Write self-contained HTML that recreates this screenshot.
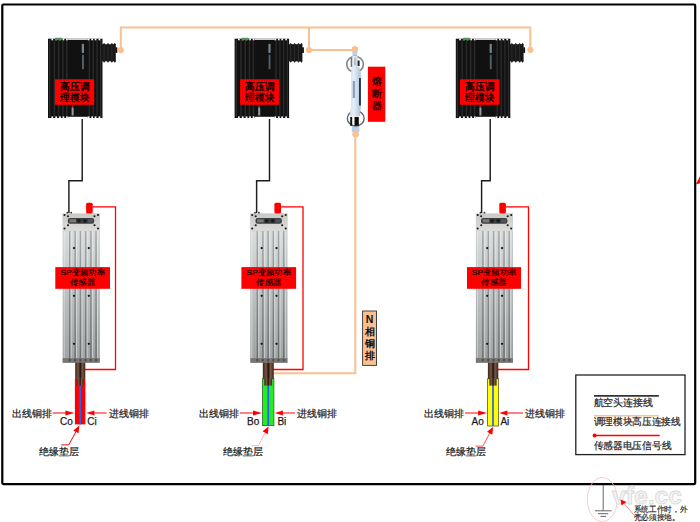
<!DOCTYPE html><html><head><meta charset="utf-8"><style>html,body{margin:0;padding:0;background:#fff;width:700px;height:522px;overflow:hidden}svg{display:block;font-family:"Liberation Sans",sans-serif}</style></head><body>
<svg width="700" height="522" viewBox="0 0 700 522">
<defs>
<linearGradient id="sgrad" x1="0" y1="0" x2="0" y2="1"><stop offset="0" stop-color="#c6c9c9"/><stop offset="0.5" stop-color="#a9adad"/><stop offset="1" stop-color="#878b8b"/></linearGradient>
<linearGradient id="hgrad" x1="0" y1="0" x2="0" y2="1"><stop offset="0" stop-color="#c9c9c6"/><stop offset="1" stop-color="#dcdcd9"/></linearGradient>
<linearGradient id="fdark" x1="0" y1="0" x2="0" y2="1"><stop offset="0" stop-color="#a3a7a7"/><stop offset="0.5" stop-color="#888c8c"/><stop offset="1" stop-color="#6a6d6d"/></linearGradient>
<linearGradient id="flight" x1="0" y1="0" x2="0" y2="1"><stop offset="0" stop-color="#d9dddd"/><stop offset="0.5" stop-color="#bcc0c1"/><stop offset="1" stop-color="#a0a4a5"/></linearGradient>
<linearGradient id="fuseg" x1="0" y1="0" x2="1" y2="0"><stop offset="0" stop-color="#d0dff0"/><stop offset="0.35" stop-color="#e6eef8"/><stop offset="0.7" stop-color="#c9d9ea"/><stop offset="1" stop-color="#a9bed4"/></linearGradient>
<linearGradient id="brown" x1="0" y1="0" x2="1" y2="0"><stop offset="0" stop-color="#3b2418"/><stop offset="0.3" stop-color="#7a5846"/><stop offset="0.5" stop-color="#1e120c"/><stop offset="0.7" stop-color="#7a5846"/><stop offset="1" stop-color="#3b2418"/></linearGradient>
</defs>
<rect x="2.3" y="4.5" width="692.9" height="479.6" rx="1" fill="none" stroke="#000" stroke-width="2.2"/>
<g stroke="#FAC090" stroke-width="2" fill="none"><path d="M120.8 50 V27.4 H530.3 V50"/><path d="M309 27.4 V50 H355"/><path d="M355.3 134 V373.3 H273"/></g>
<g transform="translate(48.0,38.7)">
<rect x="0" y="0" width="54.5" height="79.3" fill="#111"/>
<path d="M54.0 5.6 L54.9 5.6 L56.1 4.2 L57.3 5.6 L58.8 5.6 L60.0 4.2 L61.2 5.6 L62.7 5.6 L63.9 4.2 L65.1 5.6 L65.6 5.6 L66.8 4.2 L68.0 5.6 L67.8 7 L67.8 21.8 L68.0 22.6 L66.8 24.1 L65.6 22.6 L65.1 22.6 L63.9 24.1 L62.7 22.6 L61.2 22.6 L60.0 24.1 L58.8 22.6 L57.3 22.6 L56.1 24.1 L54.9 22.6 L54.0 22.6 Z" fill="#171717"/>
<rect x="55.6" y="5.5" width="1" height="17" fill="#2e2e2e"/>
<rect x="59.5" y="5.5" width="1" height="17" fill="#2e2e2e"/>
<rect x="63.4" y="5.5" width="1" height="17" fill="#2e2e2e"/>
<rect x="67.5" y="8.6" width="1.8" height="5.6" fill="#0d0d0d"/>
<rect x="0.9" y="1" width="1.5" height="77.3" fill="#2a2a2a"/>
<rect x="5.6" y="1" width="1.5" height="77.3" fill="#2a2a2a"/>
<rect x="9.9" y="1" width="1.5" height="77.3" fill="#2a2a2a"/>
<rect x="14.1" y="1" width="1.5" height="77.3" fill="#2a2a2a"/>
<rect x="18.0" y="1" width="1.5" height="77.3" fill="#2a2a2a"/>
<rect x="40.7" y="1" width="1.4" height="77.3" fill="#2a2a2a"/>
<rect x="44.6" y="1" width="1.4" height="77.3" fill="#2a2a2a"/>
<rect x="48.4" y="1" width="1.4" height="77.3" fill="#2a2a2a"/>
<rect x="52.0" y="1" width="1.4" height="77.3" fill="#2a2a2a"/>
<rect x="3.4" y="0" width="1.7" height="1.6" fill="#fff"/>
<rect x="3.4" y="77.7" width="1.7" height="1.6" fill="#fff"/>
<rect x="7.3" y="0" width="1.7" height="1.6" fill="#fff"/>
<rect x="7.3" y="77.7" width="1.7" height="1.6" fill="#fff"/>
<rect x="11.1" y="0" width="1.7" height="1.6" fill="#fff"/>
<rect x="11.1" y="77.7" width="1.7" height="1.6" fill="#fff"/>
<rect x="14.6" y="0" width="1.7" height="1.6" fill="#fff"/>
<rect x="14.6" y="77.7" width="1.7" height="1.6" fill="#fff"/>
<rect x="18.1" y="0" width="1.7" height="1.6" fill="#fff"/>
<rect x="18.1" y="77.7" width="1.7" height="1.6" fill="#fff"/>
<rect x="39.8" y="0" width="1.7" height="1.6" fill="#fff"/>
<rect x="39.8" y="77.7" width="1.7" height="1.6" fill="#fff"/>
<rect x="43.3" y="0" width="1.7" height="1.6" fill="#fff"/>
<rect x="43.3" y="77.7" width="1.7" height="1.6" fill="#fff"/>
<rect x="46.7" y="0" width="1.7" height="1.6" fill="#fff"/>
<rect x="46.7" y="77.7" width="1.7" height="1.6" fill="#fff"/>
<rect x="50.6" y="0" width="1.7" height="1.6" fill="#fff"/>
<rect x="50.6" y="77.7" width="1.7" height="1.6" fill="#fff"/>
<rect x="20.1" y="0" width="19.7" height="1.1" fill="#fff"/>
<rect x="20.1" y="78.1" width="19.7" height="1.2" fill="#fff"/>
<rect x="6.8" y="-1.0" width="7.5" height="2.2" rx="1" fill="#4c9a4f"/>
<rect x="33.8" y="5.2" width="2.2" height="9" fill="#7d939c" opacity="0.9"/>
<rect x="34.0" y="16" width="1.9" height="14.5" fill="#5d7079" opacity="0.85"/>
<rect x="6.9" y="40.6" width="39.3" height="25.5" fill="#FF0000"/>
<text x="26.700000000000003" y="51.11" font-size="9.6" fill="#000" stroke="#000" stroke-width="0.35" text-anchor="middle" textLength="29" lengthAdjust="spacingAndGlyphs">高压调</text>
<text x="26.700000000000003" y="61.91" font-size="9.6" fill="#000" stroke="#000" stroke-width="0.35" text-anchor="middle" textLength="29" lengthAdjust="spacingAndGlyphs">理模块</text>
<rect x="23.8" y="67" width="1.2" height="1.5" fill="#c33"/>
<rect x="23.6" y="68.8" width="2" height="8" fill="#8e9ea6"/>
</g>
<g transform="translate(234.6,38.7)">
<rect x="0" y="0" width="54.5" height="79.3" fill="#111"/>
<path d="M54.0 5.6 L54.9 5.6 L56.1 4.2 L57.3 5.6 L58.8 5.6 L60.0 4.2 L61.2 5.6 L62.7 5.6 L63.9 4.2 L65.1 5.6 L65.6 5.6 L66.8 4.2 L68.0 5.6 L67.8 7 L67.8 21.8 L68.0 22.6 L66.8 24.1 L65.6 22.6 L65.1 22.6 L63.9 24.1 L62.7 22.6 L61.2 22.6 L60.0 24.1 L58.8 22.6 L57.3 22.6 L56.1 24.1 L54.9 22.6 L54.0 22.6 Z" fill="#171717"/>
<rect x="55.6" y="5.5" width="1" height="17" fill="#2e2e2e"/>
<rect x="59.5" y="5.5" width="1" height="17" fill="#2e2e2e"/>
<rect x="63.4" y="5.5" width="1" height="17" fill="#2e2e2e"/>
<rect x="67.5" y="8.6" width="1.8" height="5.6" fill="#0d0d0d"/>
<rect x="0.9" y="1" width="1.5" height="77.3" fill="#2a2a2a"/>
<rect x="5.6" y="1" width="1.5" height="77.3" fill="#2a2a2a"/>
<rect x="9.9" y="1" width="1.5" height="77.3" fill="#2a2a2a"/>
<rect x="14.1" y="1" width="1.5" height="77.3" fill="#2a2a2a"/>
<rect x="18.0" y="1" width="1.5" height="77.3" fill="#2a2a2a"/>
<rect x="40.7" y="1" width="1.4" height="77.3" fill="#2a2a2a"/>
<rect x="44.6" y="1" width="1.4" height="77.3" fill="#2a2a2a"/>
<rect x="48.4" y="1" width="1.4" height="77.3" fill="#2a2a2a"/>
<rect x="52.0" y="1" width="1.4" height="77.3" fill="#2a2a2a"/>
<rect x="3.4" y="0" width="1.7" height="1.6" fill="#fff"/>
<rect x="3.4" y="77.7" width="1.7" height="1.6" fill="#fff"/>
<rect x="7.3" y="0" width="1.7" height="1.6" fill="#fff"/>
<rect x="7.3" y="77.7" width="1.7" height="1.6" fill="#fff"/>
<rect x="11.1" y="0" width="1.7" height="1.6" fill="#fff"/>
<rect x="11.1" y="77.7" width="1.7" height="1.6" fill="#fff"/>
<rect x="14.6" y="0" width="1.7" height="1.6" fill="#fff"/>
<rect x="14.6" y="77.7" width="1.7" height="1.6" fill="#fff"/>
<rect x="18.1" y="0" width="1.7" height="1.6" fill="#fff"/>
<rect x="18.1" y="77.7" width="1.7" height="1.6" fill="#fff"/>
<rect x="39.8" y="0" width="1.7" height="1.6" fill="#fff"/>
<rect x="39.8" y="77.7" width="1.7" height="1.6" fill="#fff"/>
<rect x="43.3" y="0" width="1.7" height="1.6" fill="#fff"/>
<rect x="43.3" y="77.7" width="1.7" height="1.6" fill="#fff"/>
<rect x="46.7" y="0" width="1.7" height="1.6" fill="#fff"/>
<rect x="46.7" y="77.7" width="1.7" height="1.6" fill="#fff"/>
<rect x="50.6" y="0" width="1.7" height="1.6" fill="#fff"/>
<rect x="50.6" y="77.7" width="1.7" height="1.6" fill="#fff"/>
<rect x="20.1" y="0" width="19.7" height="1.1" fill="#fff"/>
<rect x="20.1" y="78.1" width="19.7" height="1.2" fill="#fff"/>
<rect x="6.8" y="-1.0" width="7.5" height="2.2" rx="1" fill="#4c9a4f"/>
<rect x="33.8" y="5.2" width="2.2" height="9" fill="#7d939c" opacity="0.9"/>
<rect x="34.0" y="16" width="1.9" height="14.5" fill="#5d7079" opacity="0.85"/>
<rect x="5.5" y="40.6" width="39.3" height="25.5" fill="#FF0000"/>
<text x="25.3" y="51.11" font-size="9.6" fill="#000" stroke="#000" stroke-width="0.35" text-anchor="middle" textLength="29" lengthAdjust="spacingAndGlyphs">高压调</text>
<text x="25.3" y="61.91" font-size="9.6" fill="#000" stroke="#000" stroke-width="0.35" text-anchor="middle" textLength="29" lengthAdjust="spacingAndGlyphs">理模块</text>
<rect x="23.8" y="67" width="1.2" height="1.5" fill="#c33"/>
<rect x="23.6" y="68.8" width="2" height="8" fill="#8e9ea6"/>
</g>
<g transform="translate(455.8,38.7)">
<rect x="0" y="0" width="54.5" height="79.3" fill="#111"/>
<path d="M54.0 5.6 L54.9 5.6 L56.1 4.2 L57.3 5.6 L58.8 5.6 L60.0 4.2 L61.2 5.6 L62.7 5.6 L63.9 4.2 L65.1 5.6 L65.6 5.6 L66.8 4.2 L68.0 5.6 L67.8 7 L67.8 21.8 L68.0 22.6 L66.8 24.1 L65.6 22.6 L65.1 22.6 L63.9 24.1 L62.7 22.6 L61.2 22.6 L60.0 24.1 L58.8 22.6 L57.3 22.6 L56.1 24.1 L54.9 22.6 L54.0 22.6 Z" fill="#171717"/>
<rect x="55.6" y="5.5" width="1" height="17" fill="#2e2e2e"/>
<rect x="59.5" y="5.5" width="1" height="17" fill="#2e2e2e"/>
<rect x="63.4" y="5.5" width="1" height="17" fill="#2e2e2e"/>
<rect x="67.5" y="8.6" width="1.8" height="5.6" fill="#0d0d0d"/>
<rect x="0.9" y="1" width="1.5" height="77.3" fill="#2a2a2a"/>
<rect x="5.6" y="1" width="1.5" height="77.3" fill="#2a2a2a"/>
<rect x="9.9" y="1" width="1.5" height="77.3" fill="#2a2a2a"/>
<rect x="14.1" y="1" width="1.5" height="77.3" fill="#2a2a2a"/>
<rect x="18.0" y="1" width="1.5" height="77.3" fill="#2a2a2a"/>
<rect x="40.7" y="1" width="1.4" height="77.3" fill="#2a2a2a"/>
<rect x="44.6" y="1" width="1.4" height="77.3" fill="#2a2a2a"/>
<rect x="48.4" y="1" width="1.4" height="77.3" fill="#2a2a2a"/>
<rect x="52.0" y="1" width="1.4" height="77.3" fill="#2a2a2a"/>
<rect x="3.4" y="0" width="1.7" height="1.6" fill="#fff"/>
<rect x="3.4" y="77.7" width="1.7" height="1.6" fill="#fff"/>
<rect x="7.3" y="0" width="1.7" height="1.6" fill="#fff"/>
<rect x="7.3" y="77.7" width="1.7" height="1.6" fill="#fff"/>
<rect x="11.1" y="0" width="1.7" height="1.6" fill="#fff"/>
<rect x="11.1" y="77.7" width="1.7" height="1.6" fill="#fff"/>
<rect x="14.6" y="0" width="1.7" height="1.6" fill="#fff"/>
<rect x="14.6" y="77.7" width="1.7" height="1.6" fill="#fff"/>
<rect x="18.1" y="0" width="1.7" height="1.6" fill="#fff"/>
<rect x="18.1" y="77.7" width="1.7" height="1.6" fill="#fff"/>
<rect x="39.8" y="0" width="1.7" height="1.6" fill="#fff"/>
<rect x="39.8" y="77.7" width="1.7" height="1.6" fill="#fff"/>
<rect x="43.3" y="0" width="1.7" height="1.6" fill="#fff"/>
<rect x="43.3" y="77.7" width="1.7" height="1.6" fill="#fff"/>
<rect x="46.7" y="0" width="1.7" height="1.6" fill="#fff"/>
<rect x="46.7" y="77.7" width="1.7" height="1.6" fill="#fff"/>
<rect x="50.6" y="0" width="1.7" height="1.6" fill="#fff"/>
<rect x="50.6" y="77.7" width="1.7" height="1.6" fill="#fff"/>
<rect x="20.1" y="0" width="19.7" height="1.1" fill="#fff"/>
<rect x="20.1" y="78.1" width="19.7" height="1.2" fill="#fff"/>
<rect x="6.8" y="-1.0" width="7.5" height="2.2" rx="1" fill="#4c9a4f"/>
<rect x="33.8" y="5.2" width="2.2" height="9" fill="#7d939c" opacity="0.9"/>
<rect x="34.0" y="16" width="1.9" height="14.5" fill="#5d7079" opacity="0.85"/>
<rect x="4.2" y="40.6" width="39.3" height="25.5" fill="#FF0000"/>
<text x="24.0" y="51.11" font-size="9.6" fill="#000" stroke="#000" stroke-width="0.35" text-anchor="middle" textLength="29" lengthAdjust="spacingAndGlyphs">高压调</text>
<text x="24.0" y="61.91" font-size="9.6" fill="#000" stroke="#000" stroke-width="0.35" text-anchor="middle" textLength="29" lengthAdjust="spacingAndGlyphs">理模块</text>
<rect x="23.8" y="67" width="1.2" height="1.5" fill="#c33"/>
<rect x="23.6" y="68.8" width="2" height="8" fill="#8e9ea6"/>
</g>
<circle cx="120.8" cy="50.1" r="3.1" fill="#FAC090"/>
<circle cx="309" cy="50" r="3.1" fill="#FAC090"/>
<circle cx="530.3" cy="49.8" r="3.1" fill="#FAC090"/>
<circle cx="354.9" cy="49.3" r="3.1" fill="#FAC090"/>
<circle cx="355.6" cy="134.3" r="3.1" fill="#FAC090"/>
<path d="M82.2 119 V180.7 H68.9 V213" stroke="#1c1c1c" stroke-width="1.45" fill="none"/>
<path d="M269.5 119 V180.7 H256.6 V213" stroke="#1c1c1c" stroke-width="1.45" fill="none"/>
<path d="M490.2 119 V180.7 H481.6 V213" stroke="#1c1c1c" stroke-width="1.45" fill="none"/>
<g transform="translate(62.7,213.6)">
<rect x="0" y="0" width="37" height="149.1" fill="url(#sgrad)"/>
<rect x="0.6" y="17.5" width="5.7" height="127.1" fill="url(#flight)"/>
<rect x="1.0" y="17.5" width="0.9" height="127.1" fill="#f4f4f2" opacity="0.55"/>
<rect x="7.6" y="17.5" width="4.2" height="127.1" fill="url(#flight)"/>
<rect x="8.0" y="17.5" width="0.9" height="127.1" fill="#f4f4f2" opacity="0.55"/>
<rect x="13.1" y="17.5" width="4.0" height="127.1" fill="url(#flight)"/>
<rect x="13.5" y="17.5" width="0.9" height="127.1" fill="#f4f4f2" opacity="0.55"/>
<rect x="18.4" y="17.5" width="3.9" height="127.1" fill="url(#flight)"/>
<rect x="18.8" y="17.5" width="0.9" height="127.1" fill="#f4f4f2" opacity="0.55"/>
<rect x="23.6" y="17.5" width="3.9" height="127.1" fill="url(#flight)"/>
<rect x="24.0" y="17.5" width="0.9" height="127.1" fill="#f4f4f2" opacity="0.55"/>
<rect x="28.8" y="17.5" width="3.9" height="127.1" fill="url(#flight)"/>
<rect x="29.2" y="17.5" width="0.9" height="127.1" fill="#f4f4f2" opacity="0.55"/>
<rect x="34.0" y="17.5" width="2.4" height="127.1" fill="url(#flight)"/>
<rect x="34.4" y="17.5" width="0.9" height="127.1" fill="#f4f4f2" opacity="0.55"/>
<rect x="6.3" y="17.5" width="1.3" height="127.1" fill="url(#fdark)"/>
<rect x="11.8" y="17.5" width="1.3" height="127.1" fill="url(#fdark)"/>
<rect x="17.1" y="17.5" width="1.3" height="127.1" fill="url(#fdark)"/>
<rect x="22.3" y="17.5" width="1.3" height="127.1" fill="url(#fdark)"/>
<rect x="27.5" y="17.5" width="1.3" height="127.1" fill="url(#fdark)"/>
<rect x="32.7" y="17.5" width="1.3" height="127.1" fill="url(#fdark)"/>
<rect x="0" y="0" width="37" height="17.3" fill="url(#hgrad)"/>
<rect x="5.1" y="4.3" width="26.4" height="5.8" rx="2.2" fill="#3b3e42"/>
<rect x="6.8" y="5.6" width="6.5" height="3.2" fill="#7b7a70"/>
<circle cx="16.3" cy="7.2" r="1.9" fill="#1d1d1d"/><circle cx="22.3" cy="7.2" r="1.9" fill="#1d1d1d"/>
<rect x="25.2" y="5.4" width="5" height="3.6" fill="#4d5258"/>
<circle cx="1.8" cy="1.4" r="1.05" fill="#1a1a1a"/>
<circle cx="35.3" cy="1.4" r="1.05" fill="#1a1a1a"/>
<circle cx="1.8" cy="14.9" r="1.05" fill="#1a1a1a"/>
<circle cx="35.3" cy="14.9" r="1.05" fill="#1a1a1a"/>
<circle cx="5.3" cy="2.7" r="1.05" fill="#1a1a1a"/>
<circle cx="31.8" cy="2.7" r="1.05" fill="#1a1a1a"/>
<circle cx="5.3" cy="11.7" r="1.05" fill="#1a1a1a"/>
<circle cx="31.8" cy="11.7" r="1.05" fill="#1a1a1a"/>
<circle cx="4.6" cy="-0.9" r="0.9" fill="#333"/><circle cx="8.5" cy="-0.9" r="0.9" fill="#333"/>
<circle cx="11.3" cy="34.5" r="1.15" fill="#151515"/>
<circle cx="26.1" cy="34.5" r="1.15" fill="#151515"/>
<circle cx="11.3" cy="82.2" r="1.15" fill="#151515"/>
<circle cx="26.1" cy="82.2" r="1.15" fill="#151515"/>
<circle cx="11.3" cy="130.2" r="1.15" fill="#151515"/>
<circle cx="26.1" cy="130.2" r="1.15" fill="#151515"/>
<rect x="0" y="144.6" width="37" height="4.5" fill="#777674"/>
<rect x="6.0" y="145.29999999999998" width="1.8" height="2.4" fill="#4a4a48"/>
<rect x="11.5" y="145.29999999999998" width="1.8" height="2.4" fill="#4a4a48"/>
<rect x="16.8" y="145.29999999999998" width="1.8" height="2.4" fill="#4a4a48"/>
<rect x="22.0" y="145.29999999999998" width="1.8" height="2.4" fill="#4a4a48"/>
<rect x="27.2" y="145.29999999999998" width="1.8" height="2.4" fill="#4a4a48"/>
<rect x="32.400000000000006" y="145.29999999999998" width="1.8" height="2.4" fill="#4a4a48"/>
</g>
<rect x="86.1" y="202.8" width="6.6" height="10.6" rx="1.5" fill="#FF0000"/>
<path d="M92.5 206.8 H115.5 V369.5 H83.9" stroke="#FF0000" stroke-width="1.3" fill="none"/>
<rect x="55.3" y="267.1" width="54.7" height="21.7" fill="#FF0000"/>
<text x="82.65" y="275.39" font-size="8.1" fill="#000" stroke="#000" stroke-width="0.15" text-anchor="middle" textLength="44.3" lengthAdjust="spacingAndGlyphs">SP变频功率</text>
<text x="82.65" y="285.29" font-size="8.1" fill="#000" stroke="#000" stroke-width="0.15" text-anchor="middle" textLength="25.4" lengthAdjust="spacingAndGlyphs">传感器</text>
<rect x="74.9" y="378.7" width="10.5" height="45.7" fill="#FF0000"/>
<rect x="79.30000000000001" y="384" width="1.7" height="40.4" fill="#2f5fe8"/>
<rect x="75.2" y="362.6" width="10.1" height="16.3" fill="url(#brown)"/>
<rect x="76.7" y="378.8" width="6.9" height="6.8" fill="url(#brown)"/>
<path d="M52.6 413 H66.9" stroke="#FF0000" stroke-width="1"/>
<path d="M65.4 410.4 L74.30000000000001 413 L65.4 415.6 Z" fill="#FF0000"/>
<path d="M92.4 413 H106.6" stroke="#FF0000" stroke-width="1"/>
<path d="M94.4 410.4 L86.2 413 L94.4 415.6 Z" fill="#FF0000"/>
<path d="M61.4 444.9 H68.7 L76.39 431.02" stroke="#FF0000" stroke-width="1" fill="none"/>
<path d="M79.4 425.6 L78.53 433.35 L73.29 430.44 Z" fill="#FF0000"/>
<text x="11.9" y="417.18" font-size="9.5" fill="#1a1a1a" stroke="#1a1a1a" stroke-width="0.2">出线铜排</text>
<text x="108.8" y="417.18" font-size="9.5" fill="#1a1a1a" stroke="#1a1a1a" stroke-width="0.2">进线铜排</text>
<text x="39.0" y="454.68" font-size="9.5" fill="#1a1a1a" stroke="#1a1a1a" stroke-width="0.2">绝缘垫层</text>
<text x="60.0" y="424.6" font-size="10" fill="#1a1a1a" stroke="#1a1a1a" stroke-width="0.25">Co</text>
<text x="87.30000000000001" y="424.6" font-size="10" fill="#1a1a1a" stroke="#1a1a1a" stroke-width="0.25">Ci</text>
<g transform="translate(250.4,213.6)">
<rect x="0" y="0" width="37" height="149.1" fill="url(#sgrad)"/>
<rect x="0.6" y="17.5" width="5.7" height="127.1" fill="url(#flight)"/>
<rect x="1.0" y="17.5" width="0.9" height="127.1" fill="#f4f4f2" opacity="0.55"/>
<rect x="7.6" y="17.5" width="4.2" height="127.1" fill="url(#flight)"/>
<rect x="8.0" y="17.5" width="0.9" height="127.1" fill="#f4f4f2" opacity="0.55"/>
<rect x="13.1" y="17.5" width="4.0" height="127.1" fill="url(#flight)"/>
<rect x="13.5" y="17.5" width="0.9" height="127.1" fill="#f4f4f2" opacity="0.55"/>
<rect x="18.4" y="17.5" width="3.9" height="127.1" fill="url(#flight)"/>
<rect x="18.8" y="17.5" width="0.9" height="127.1" fill="#f4f4f2" opacity="0.55"/>
<rect x="23.6" y="17.5" width="3.9" height="127.1" fill="url(#flight)"/>
<rect x="24.0" y="17.5" width="0.9" height="127.1" fill="#f4f4f2" opacity="0.55"/>
<rect x="28.8" y="17.5" width="3.9" height="127.1" fill="url(#flight)"/>
<rect x="29.2" y="17.5" width="0.9" height="127.1" fill="#f4f4f2" opacity="0.55"/>
<rect x="34.0" y="17.5" width="2.4" height="127.1" fill="url(#flight)"/>
<rect x="34.4" y="17.5" width="0.9" height="127.1" fill="#f4f4f2" opacity="0.55"/>
<rect x="6.3" y="17.5" width="1.3" height="127.1" fill="url(#fdark)"/>
<rect x="11.8" y="17.5" width="1.3" height="127.1" fill="url(#fdark)"/>
<rect x="17.1" y="17.5" width="1.3" height="127.1" fill="url(#fdark)"/>
<rect x="22.3" y="17.5" width="1.3" height="127.1" fill="url(#fdark)"/>
<rect x="27.5" y="17.5" width="1.3" height="127.1" fill="url(#fdark)"/>
<rect x="32.7" y="17.5" width="1.3" height="127.1" fill="url(#fdark)"/>
<rect x="0" y="0" width="37" height="17.3" fill="url(#hgrad)"/>
<rect x="5.1" y="4.3" width="26.4" height="5.8" rx="2.2" fill="#3b3e42"/>
<rect x="6.8" y="5.6" width="6.5" height="3.2" fill="#7b7a70"/>
<circle cx="16.3" cy="7.2" r="1.9" fill="#1d1d1d"/><circle cx="22.3" cy="7.2" r="1.9" fill="#1d1d1d"/>
<rect x="25.2" y="5.4" width="5" height="3.6" fill="#4d5258"/>
<circle cx="1.8" cy="1.4" r="1.05" fill="#1a1a1a"/>
<circle cx="35.3" cy="1.4" r="1.05" fill="#1a1a1a"/>
<circle cx="1.8" cy="14.9" r="1.05" fill="#1a1a1a"/>
<circle cx="35.3" cy="14.9" r="1.05" fill="#1a1a1a"/>
<circle cx="5.3" cy="2.7" r="1.05" fill="#1a1a1a"/>
<circle cx="31.8" cy="2.7" r="1.05" fill="#1a1a1a"/>
<circle cx="5.3" cy="11.7" r="1.05" fill="#1a1a1a"/>
<circle cx="31.8" cy="11.7" r="1.05" fill="#1a1a1a"/>
<circle cx="4.6" cy="-0.9" r="0.9" fill="#333"/><circle cx="8.5" cy="-0.9" r="0.9" fill="#333"/>
<circle cx="11.3" cy="34.5" r="1.15" fill="#151515"/>
<circle cx="26.1" cy="34.5" r="1.15" fill="#151515"/>
<circle cx="11.3" cy="82.2" r="1.15" fill="#151515"/>
<circle cx="26.1" cy="82.2" r="1.15" fill="#151515"/>
<circle cx="11.3" cy="130.2" r="1.15" fill="#151515"/>
<circle cx="26.1" cy="130.2" r="1.15" fill="#151515"/>
<rect x="0" y="144.6" width="37" height="4.5" fill="#777674"/>
<rect x="6.0" y="145.29999999999998" width="1.8" height="2.4" fill="#4a4a48"/>
<rect x="11.5" y="145.29999999999998" width="1.8" height="2.4" fill="#4a4a48"/>
<rect x="16.8" y="145.29999999999998" width="1.8" height="2.4" fill="#4a4a48"/>
<rect x="22.0" y="145.29999999999998" width="1.8" height="2.4" fill="#4a4a48"/>
<rect x="27.2" y="145.29999999999998" width="1.8" height="2.4" fill="#4a4a48"/>
<rect x="32.400000000000006" y="145.29999999999998" width="1.8" height="2.4" fill="#4a4a48"/>
</g>
<rect x="274.4" y="202.8" width="6.6" height="10.6" rx="1.5" fill="#FF0000"/>
<path d="M280.79999999999995 206.8 H303.0 V369.5 H271.5" stroke="#FF0000" stroke-width="1.3" fill="none"/>
<rect x="241.4" y="267.1" width="54.7" height="21.7" fill="#FF0000"/>
<text x="268.75" y="275.39" font-size="8.1" fill="#000" stroke="#000" stroke-width="0.15" text-anchor="middle" textLength="44.3" lengthAdjust="spacingAndGlyphs">SP变频功率</text>
<text x="268.75" y="285.29" font-size="8.1" fill="#000" stroke="#000" stroke-width="0.15" text-anchor="middle" textLength="25.4" lengthAdjust="spacingAndGlyphs">传感器</text>
<rect x="262.5" y="378.7" width="11.4" height="46.9" fill="#22EE22" stroke="#2a6a2a" stroke-width="0.8"/>
<rect x="267.34999999999997" y="384" width="1.7" height="41.6" fill="#2f5fe8"/>
<rect x="262.8" y="362.6" width="11.0" height="16.3" fill="url(#brown)"/>
<rect x="264.3" y="378.8" width="7.800000000000001" height="6.8" fill="url(#brown)"/>
<path d="M239.8 413 H254.5" stroke="#FF0000" stroke-width="1"/>
<path d="M253.0 410.4 L261.9 413 L253.0 415.6 Z" fill="#FF0000"/>
<path d="M280.9 413 H295.0" stroke="#FF0000" stroke-width="1"/>
<path d="M282.9 410.4 L274.7 413 L282.9 415.6 Z" fill="#FF0000"/>
<path d="M251.4 445.7 H258.3 L265.68 431.87" stroke="#ffb0b0" stroke-width="1" fill="none"/>
<path d="M268.6 426.4 L267.86 434.16 L262.56 431.34 Z" fill="#FF0000"/>
<text x="199.10000000000002" y="417.18" font-size="9.5" fill="#1a1a1a" stroke="#1a1a1a" stroke-width="0.2">出线铜排</text>
<text x="297.2" y="417.18" font-size="9.5" fill="#1a1a1a" stroke="#1a1a1a" stroke-width="0.2">进线铜排</text>
<text x="222.5" y="454.68" font-size="9.5" fill="#1a1a1a" stroke="#1a1a1a" stroke-width="0.2">绝缘垫层</text>
<text x="247.0" y="424.6" font-size="10" fill="#1a1a1a" stroke="#1a1a1a" stroke-width="0.25">Bo</text>
<text x="277.4" y="424.6" font-size="10" fill="#1a1a1a" stroke="#1a1a1a" stroke-width="0.25">Bi</text>
<g transform="translate(475.9,213.6)">
<rect x="0" y="0" width="37" height="149.1" fill="url(#sgrad)"/>
<rect x="0.6" y="17.5" width="5.7" height="127.1" fill="url(#flight)"/>
<rect x="1.0" y="17.5" width="0.9" height="127.1" fill="#f4f4f2" opacity="0.55"/>
<rect x="7.6" y="17.5" width="4.2" height="127.1" fill="url(#flight)"/>
<rect x="8.0" y="17.5" width="0.9" height="127.1" fill="#f4f4f2" opacity="0.55"/>
<rect x="13.1" y="17.5" width="4.0" height="127.1" fill="url(#flight)"/>
<rect x="13.5" y="17.5" width="0.9" height="127.1" fill="#f4f4f2" opacity="0.55"/>
<rect x="18.4" y="17.5" width="3.9" height="127.1" fill="url(#flight)"/>
<rect x="18.8" y="17.5" width="0.9" height="127.1" fill="#f4f4f2" opacity="0.55"/>
<rect x="23.6" y="17.5" width="3.9" height="127.1" fill="url(#flight)"/>
<rect x="24.0" y="17.5" width="0.9" height="127.1" fill="#f4f4f2" opacity="0.55"/>
<rect x="28.8" y="17.5" width="3.9" height="127.1" fill="url(#flight)"/>
<rect x="29.2" y="17.5" width="0.9" height="127.1" fill="#f4f4f2" opacity="0.55"/>
<rect x="34.0" y="17.5" width="2.4" height="127.1" fill="url(#flight)"/>
<rect x="34.4" y="17.5" width="0.9" height="127.1" fill="#f4f4f2" opacity="0.55"/>
<rect x="6.3" y="17.5" width="1.3" height="127.1" fill="url(#fdark)"/>
<rect x="11.8" y="17.5" width="1.3" height="127.1" fill="url(#fdark)"/>
<rect x="17.1" y="17.5" width="1.3" height="127.1" fill="url(#fdark)"/>
<rect x="22.3" y="17.5" width="1.3" height="127.1" fill="url(#fdark)"/>
<rect x="27.5" y="17.5" width="1.3" height="127.1" fill="url(#fdark)"/>
<rect x="32.7" y="17.5" width="1.3" height="127.1" fill="url(#fdark)"/>
<rect x="0" y="0" width="37" height="17.3" fill="url(#hgrad)"/>
<rect x="5.1" y="4.3" width="26.4" height="5.8" rx="2.2" fill="#3b3e42"/>
<rect x="6.8" y="5.6" width="6.5" height="3.2" fill="#7b7a70"/>
<circle cx="16.3" cy="7.2" r="1.9" fill="#1d1d1d"/><circle cx="22.3" cy="7.2" r="1.9" fill="#1d1d1d"/>
<rect x="25.2" y="5.4" width="5" height="3.6" fill="#4d5258"/>
<circle cx="1.8" cy="1.4" r="1.05" fill="#1a1a1a"/>
<circle cx="35.3" cy="1.4" r="1.05" fill="#1a1a1a"/>
<circle cx="1.8" cy="14.9" r="1.05" fill="#1a1a1a"/>
<circle cx="35.3" cy="14.9" r="1.05" fill="#1a1a1a"/>
<circle cx="5.3" cy="2.7" r="1.05" fill="#1a1a1a"/>
<circle cx="31.8" cy="2.7" r="1.05" fill="#1a1a1a"/>
<circle cx="5.3" cy="11.7" r="1.05" fill="#1a1a1a"/>
<circle cx="31.8" cy="11.7" r="1.05" fill="#1a1a1a"/>
<circle cx="4.6" cy="-0.9" r="0.9" fill="#333"/><circle cx="8.5" cy="-0.9" r="0.9" fill="#333"/>
<circle cx="11.3" cy="34.5" r="1.15" fill="#151515"/>
<circle cx="26.1" cy="34.5" r="1.15" fill="#151515"/>
<circle cx="11.3" cy="82.2" r="1.15" fill="#151515"/>
<circle cx="26.1" cy="82.2" r="1.15" fill="#151515"/>
<circle cx="11.3" cy="130.2" r="1.15" fill="#151515"/>
<circle cx="26.1" cy="130.2" r="1.15" fill="#151515"/>
<rect x="0" y="144.6" width="37" height="4.5" fill="#777674"/>
<rect x="6.0" y="145.29999999999998" width="1.8" height="2.4" fill="#4a4a48"/>
<rect x="11.5" y="145.29999999999998" width="1.8" height="2.4" fill="#4a4a48"/>
<rect x="16.8" y="145.29999999999998" width="1.8" height="2.4" fill="#4a4a48"/>
<rect x="22.0" y="145.29999999999998" width="1.8" height="2.4" fill="#4a4a48"/>
<rect x="27.2" y="145.29999999999998" width="1.8" height="2.4" fill="#4a4a48"/>
<rect x="32.400000000000006" y="145.29999999999998" width="1.8" height="2.4" fill="#4a4a48"/>
</g>
<rect x="499.3" y="202.8" width="6.6" height="10.6" rx="1.5" fill="#FF0000"/>
<path d="M505.7 206.8 H528.5 V369.5 H496.6" stroke="#FF0000" stroke-width="1.3" fill="none"/>
<rect x="467.0" y="267.1" width="54.0" height="21.7" fill="#FF0000"/>
<text x="494.0" y="275.39" font-size="8.1" fill="#000" stroke="#000" stroke-width="0.15" text-anchor="middle" textLength="44.3" lengthAdjust="spacingAndGlyphs">SP变频功率</text>
<text x="494.0" y="285.29" font-size="8.1" fill="#000" stroke="#000" stroke-width="0.15" text-anchor="middle" textLength="25.4" lengthAdjust="spacingAndGlyphs">传感器</text>
<rect x="487.6" y="378.7" width="10.8" height="47.3" fill="#FFFF00" stroke="#5a5a2a" stroke-width="0.8"/>
<rect x="492.15" y="384" width="1.7" height="42.0" fill="#2f5fe8"/>
<rect x="487.90000000000003" y="362.6" width="10.4" height="16.3" fill="url(#brown)"/>
<rect x="489.40000000000003" y="378.8" width="7.200000000000001" height="6.8" fill="url(#brown)"/>
<path d="M465.0 413 H479.6" stroke="#FF0000" stroke-width="1"/>
<path d="M478.1 410.4 L487.0 413 L478.1 415.6 Z" fill="#FF0000"/>
<path d="M505.40000000000003 413 H523.0" stroke="#FF0000" stroke-width="1"/>
<path d="M507.40000000000003 410.4 L499.20000000000005 413 L507.40000000000003 415.6 Z" fill="#FF0000"/>
<path d="M475.6 446.1 H482.8 L490.17 432.36" stroke="#ff5050" stroke-width="1" fill="none"/>
<path d="M493.1 426.9 L492.34 434.66 L487.05 431.83 Z" fill="#FF0000"/>
<text x="424.3" y="417.18" font-size="9.5" fill="#1a1a1a" stroke="#1a1a1a" stroke-width="0.2">出线铜排</text>
<text x="525.2" y="417.18" font-size="9.5" fill="#1a1a1a" stroke="#1a1a1a" stroke-width="0.2">进线铜排</text>
<text x="446.0" y="454.68" font-size="9.5" fill="#1a1a1a" stroke="#1a1a1a" stroke-width="0.2">绝缘垫层</text>
<text x="471.59999999999997" y="424.6" font-size="10" fill="#1a1a1a" stroke="#1a1a1a" stroke-width="0.25">Ao</text>
<text x="500.4" y="424.6" font-size="10" fill="#1a1a1a" stroke="#1a1a1a" stroke-width="0.25">Ai</text>
<g>
<rect x="352.4" y="51" width="5" height="6" fill="#bcd2e8"/>
<rect x="351.8" y="124" width="7.6" height="8" fill="#bccfe2"/>
<ellipse cx="355.05" cy="64.3" rx="8.3" ry="8.0" fill="#fff" stroke="#858a92" stroke-width="1.7"/>
<ellipse cx="355.75" cy="118.4" rx="8.4" ry="7.7" fill="#fff" stroke="#5e646c" stroke-width="1.4"/>
<path d="M352.4 56 H357.6 V66 Q360.6 68 360.8 74 V106 Q360.6 110 360.2 112 V116 H349.9 V112 Q350.6 110 351 106 V74 Q351 68 352.4 66 Z" fill="url(#fuseg)"/>
<rect x="350.7" y="58" width="1.5" height="9" fill="#6a707a"/>
<rect x="354.5" y="57.5" width="0.9" height="8" fill="#8a929c"/>
<rect x="357.6" y="60.5" width="2" height="5.5" fill="#1e232a"/>
<rect x="352.7" y="81" width="2.4" height="17" fill="#8ea3ba"/>
<rect x="359.0" y="78" width="1.9" height="27.5" fill="#203656"/>
<rect x="350.2" y="116.9" width="2" height="8.9" fill="#111"/>
<rect x="354.5" y="116.9" width="4.3" height="8.9" fill="#0a0a0a"/>
</g>
<circle cx="354.9" cy="49.3" r="3.1" fill="#FAC090"/><circle cx="355.6" cy="134.3" r="3.1" fill="#FAC090"/>
<rect x="367.9" y="66.7" width="17.4" height="55.1" fill="#FF0000"/>
<text x="376.6" y="84.98" font-size="9.8" fill="#200" stroke="#200" stroke-width="0.3" text-anchor="middle">熔</text>
<text x="376.6" y="97.38" font-size="9.8" fill="#200" stroke="#200" stroke-width="0.3" text-anchor="middle">断</text>
<text x="376.6" y="108.58" font-size="9.8" fill="#200" stroke="#200" stroke-width="0.3" text-anchor="middle">器</text>
<rect x="362.6" y="311" width="13.9" height="54.4" fill="#FAC090" stroke="#333" stroke-width="0.9"/>
<text x="369.6" y="323.3" font-size="10.5" font-weight="bold" fill="#111" text-anchor="middle">N</text>
<text x="369.6" y="335.45" font-size="10" font-weight="bold" fill="#111" text-anchor="middle">相</text>
<text x="369.6" y="347.15" font-size="10" font-weight="bold" fill="#111" text-anchor="middle">铜</text>
<text x="369.6" y="358.65" font-size="10" font-weight="bold" fill="#111" text-anchor="middle">排</text>
<rect x="575.8" y="375" width="109.2" height="79.6" fill="#fff" stroke="#222" stroke-width="1.3"/>
<path d="M594 395.9 H658.8" stroke="#333" stroke-width="1.6"/>
<path d="M594 415.7 H658.8" stroke="#FAC090" stroke-width="1.4"/>
<path d="M594 435.5 H659.7" stroke="#FF0000" stroke-width="1.4"/><circle cx="594.6" cy="435.5" r="2" fill="#FF0000"/>
<text x="593.5" y="406.08" font-size="9.5" fill="#222" stroke="#222" stroke-width="0.2" textLength="59.6" lengthAdjust="spacingAndGlyphs">航空头连接线</text>
<text x="593.5" y="424.98" font-size="9.5" fill="#222" stroke="#222" stroke-width="0.2" textLength="87.2" lengthAdjust="spacingAndGlyphs">调理模块高压连接线</text>
<text x="593.5" y="449.18" font-size="9.5" fill="#222" stroke="#222" stroke-width="0.2" textLength="77.8" lengthAdjust="spacingAndGlyphs">传感器电压信号线</text>
<ellipse cx="602.3" cy="499.5" rx="15" ry="22" fill="none" stroke="#f3c0c0" stroke-width="0.8"/>
<path d="M603.2 485 V510.5 M595 510.8 H611.7 M598 513.7 H608.3 M600.5 516.4 H606" stroke="#555" stroke-width="0.9"/>
<text x="612" y="503.5" font-size="24" font-weight="bold" fill="#f3f3f3" stroke="#dadada" stroke-width="0.8" textLength="70" lengthAdjust="spacingAndGlyphs">vfe.cc</text>
<path d="M621 500 L640 522" stroke="#FF0000" stroke-width="0.6" fill="none" opacity="0.7"/>
<path d="M620.5 499.5 L626.5 502 L621.5 505.5 Z" fill="#FF0000"/>
<text x="633.8" y="511.73" font-size="7.9" fill="#222" stroke="#222" stroke-width="0.15" textLength="53.4" lengthAdjust="spacingAndGlyphs">系统工作时，外</text>
<text x="633.8" y="520.03" font-size="7.9" fill="#222" stroke="#222" stroke-width="0.15" textLength="45.8" lengthAdjust="spacingAndGlyphs">壳必须接地。</text>
<path d="M695.8 184.6 L700 176.3 L700 183.2 Z" fill="#FF0000"/>
</svg></body></html>
